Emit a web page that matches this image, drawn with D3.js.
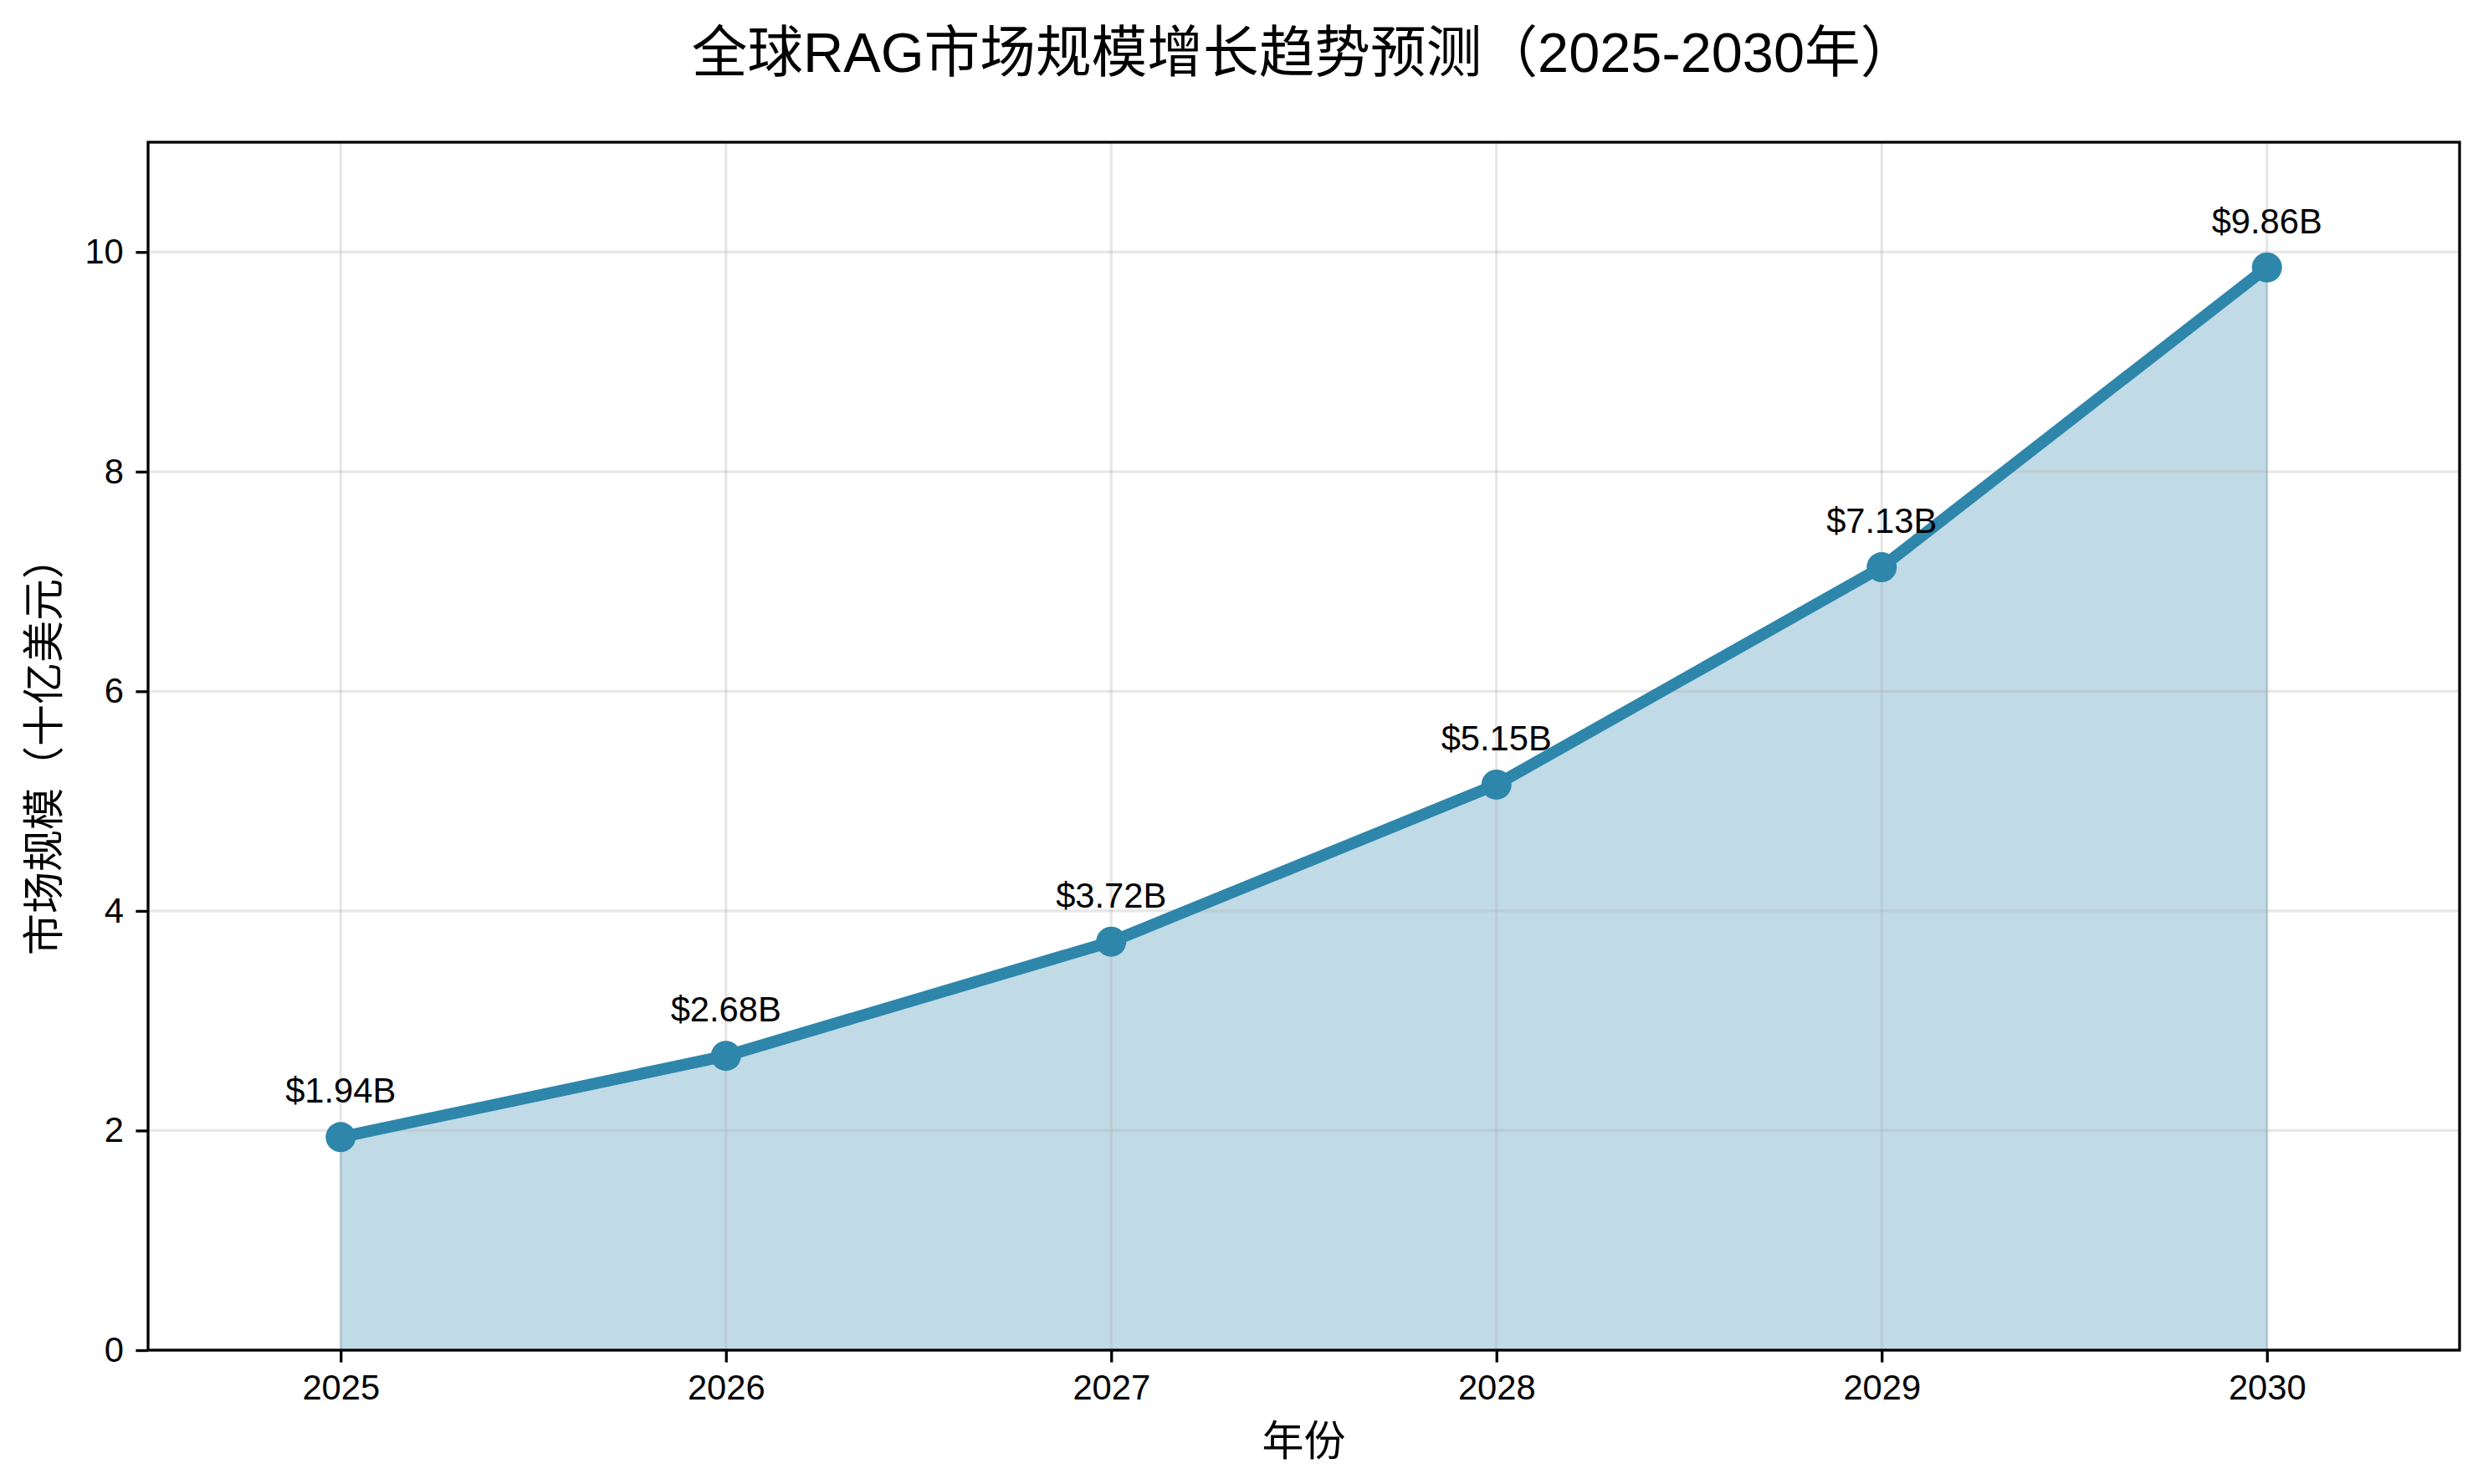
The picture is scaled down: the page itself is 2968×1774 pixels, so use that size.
<!DOCTYPE html>
<html>
<head>
<meta charset="utf-8">
<script src="https://cdn.jsdelivr.net/npm/d3@7"></script>
<style>
  body { margin: 0; background: #fff; }
  svg { display: block; }
  text { font-family: "Liberation Sans", "Noto Sans CJK SC", sans-serif; fill: #000; }
</style>
</head>
<body>
<svg id="chart"></svg>
<script>
const years = [2025, 2026, 2027, 2028, 2029, 2030];
const marketSize = [1.94, 2.68, 3.72, 5.15, 7.13, 9.86];
const yTicks = [0, 2, 4, 6, 8, 10];

const W = 2968, H = 1774;
const margin = { top: 170, right: 28, bottom: 160, left: 177 };
const width = W - margin.left - margin.right;
const height = H - margin.top - margin.bottom;
const color = '#2E86AB';

const svg = d3.select('#chart').attr('width', W).attr('height', H);
const g = svg.append('g').attr('transform', `translate(${margin.left},${margin.top})`);

const x = d3.scaleLinear().domain([2024.5, 2030.5]).range([0, width]);
const y = d3.scaleLinear().domain([0, 11]).range([height, 0]);

const data = years.map((yr, i) => ({ year: yr, value: marketSize[i] }));

// filled area
g.append('path')
  .datum(data)
  .attr('d', d3.area().x(d => x(d.year)).y0(y(0)).y1(d => y(d.value)))
  .attr('fill', color)
  .attr('fill-opacity', 0.3)
  .attr('stroke', color)
  .attr('stroke-opacity', 0.3)
  .attr('stroke-width', 2);

// grid
g.append('g')
  .selectAll('line.vg')
  .data(years)
  .enter().append('line')
  .attr('x1', d => x(d)).attr('x2', d => x(d))
  .attr('y1', 0).attr('y2', height)
  .attr('stroke', '#b0b0b0').attr('stroke-opacity', 0.3).attr('stroke-width', 3.3);
g.append('g')
  .selectAll('line.hg')
  .data(yTicks)
  .enter().append('line')
  .attr('x1', 0).attr('x2', width)
  .attr('y1', d => y(d)).attr('y2', d => y(d))
  .attr('stroke', '#b0b0b0').attr('stroke-opacity', 0.3).attr('stroke-width', 3.3);

// line + markers
g.append('path')
  .datum(data)
  .attr('d', d3.line().x(d => x(d.year)).y(d => y(d.value)))
  .attr('fill', 'none')
  .attr('stroke', color)
  .attr('stroke-width', 14)
  .attr('stroke-linejoin', 'round');

g.selectAll('.dot')
  .data(data)
  .enter().append('circle')
  .attr('class', 'dot')
  .attr('cx', d => x(d.year))
  .attr('cy', d => y(d.value))
  .attr('r', 18)
  .attr('fill', color);

g.selectAll('.lbl')
  .data(data)
  .enter().append('text')
  .attr('class', 'lbl')
  .attr('x', d => x(d.year))
  .attr('y', d => y(d.value) - 41)
  .attr('text-anchor', 'middle')
  .style('font-size', '41.7px')
  .text(d => `$${d.value.toFixed(2)}B`);

// axes
const xAxis = g.append('g')
  .attr('transform', `translate(0,${height})`)
  .call(d3.axisBottom(x).tickValues(years).tickFormat(d3.format('d')).tickSize(14.6).tickPadding(14.6));
const yAxis = g.append('g')
  .call(d3.axisLeft(y).tickValues(yTicks).tickSize(14.6).tickPadding(14.6));

[xAxis, yAxis].forEach(a => {
  a.select('.domain').remove();
  a.selectAll('line').attr('stroke', '#000').attr('stroke-width', 3.3);
  a.selectAll('text').style('font-size', '41.7px').attr('fill', '#000');
});

// frame
g.append('rect')
  .attr('width', width).attr('height', height)
  .attr('fill', 'none').attr('stroke', '#000').attr('stroke-width', 3.3);

// labels
svg.append('text')
  .attr('x', margin.left + width / 2)
  .attr('y', 1740)
  .attr('text-anchor', 'middle')
  .style('font-size', '50px')
  .text('年份');

svg.append('text')
  .attr('transform', `translate(70,${margin.top + height / 2}) rotate(-90)`)
  .attr('text-anchor', 'middle')
  .style('font-size', '50px')
  .text('市场规模（十亿美元）');

svg.append('text')
  .attr('x', margin.left + width / 2)
  .attr('y', 86)
  .attr('text-anchor', 'middle')
  .style('font-size', '66.7px')
  .text('全球RAG市场规模增长趋势预测（2025-2030年）');
</script>
</body>
</html>
